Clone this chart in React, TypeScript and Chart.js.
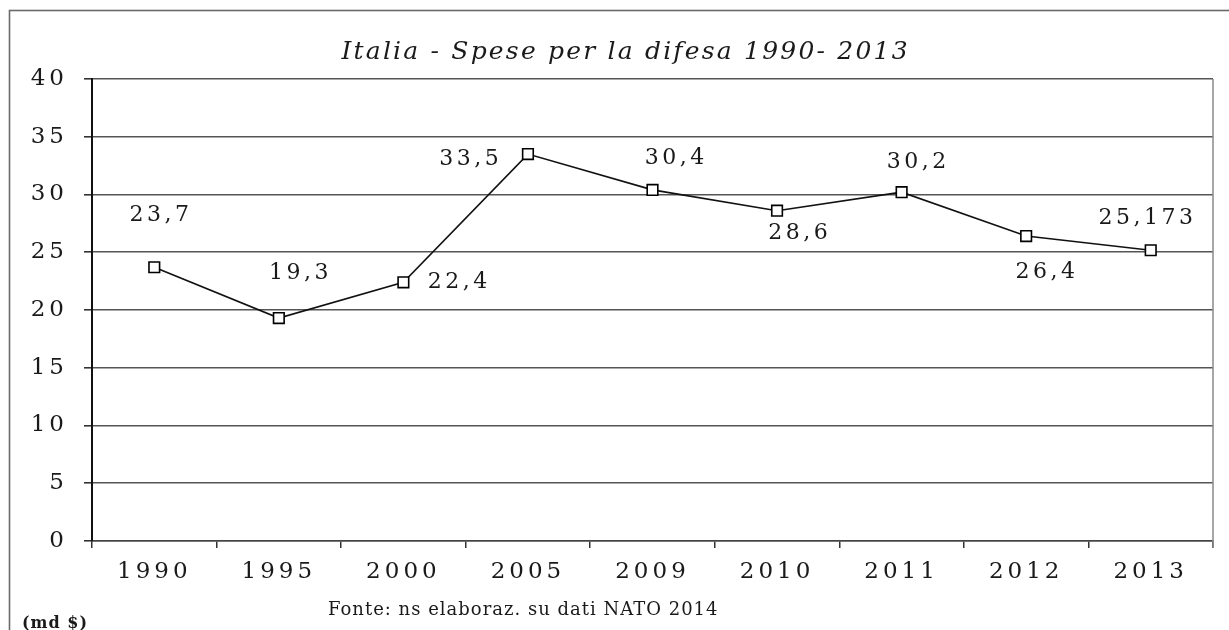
import { useEffect, useRef } from "react";
import { Chart, registerables } from "chart.js";

Chart.register(...registerables);

// ---- data ----
const categories = ["1990", "1995", "2000", "2005", "2009", "2010", "2011", "2012", "2013"];
const spending = [23.7, 19.3, 22.4, 33.5, 30.4, 28.6, 30.2, 26.4, 25.173];
const valueLabels = ["23,7", "19,3", "22,4", "33,5", "30,4", "28,6", "30,2", "26,4", "25,173"];
const yMin = 0;
const yMax = 40;
const yStep = 5;
const titleText = "Italia - Spese per la difesa 1990- 2013";
const sourceText = "Fonte: ns elaboraz. su dati NATO 2014";
const unitText = "(md $)";

// ---- label placement (pixel offsets from each point) ----
const labelOffsets: [number, number][] = [
  [5, -52], [20, -45], [54, 0], [-59, 5], [22, -32], [21, 23], [15, -30], [19, 36], [-5, -32],
];

const FONT = "'DejaVu Serif', 'Liberation Serif', serif";

const decorPlugin = {
  id: "decor",
  beforeUpdate(chart: any) {
    chart.ctx.letterSpacing = "4px";
  },
  beforeLayout(chart: any) {
    chart.ctx.letterSpacing = "4px";
  },
  beforeDraw(chart: any) {
    const ctx = chart.ctx;
    ctx.save();
    ctx.fillStyle = "#ffffff";
    ctx.fillRect(0, 0, chart.width, chart.height);
    ctx.strokeStyle = "#6a6a6a";
    ctx.lineWidth = 1.6;
    ctx.strokeRect(9.5, 10.5, chart.width + 100, chart.height + 100);
    ctx.restore();
    ctx.letterSpacing = "4px";
  },
  afterDatasetsDraw(chart: any) {
    const ctx = chart.ctx;
    const meta = chart.getDatasetMeta(0);
    ctx.save();
    ctx.font = `22px ${FONT}`;
    ctx.letterSpacing = "3.5px";
    ctx.fillStyle = "#1a1a1a";
    ctx.textAlign = "center";
    ctx.textBaseline = "middle";
    meta.data.forEach((pt: any, i: number) => {
      const off = labelOffsets[i];
      ctx.fillText(valueLabels[i], pt.x + off[0] + 1.75, pt.y + off[1]);
    });
    ctx.restore();
  },
  afterDraw(chart: any) {
    const ctx = chart.ctx;
    const a = chart.chartArea;
    ctx.save();
    // right border of plot area
    ctx.strokeStyle = "#8a8a8a";
    ctx.lineWidth = 1.5;
    ctx.beginPath();
    ctx.moveTo(a.right, a.top);
    ctx.lineTo(a.right, a.bottom + 7);
    ctx.stroke();
    // title
    ctx.fillStyle = "#1a1a1a";
    ctx.font = `italic 25px ${FONT}`;
    ctx.letterSpacing = "2.2px";
    ctx.textAlign = "center";
    ctx.textBaseline = "middle";
    ctx.fillText(titleText, 625.6, 52);
    // source
    ctx.font = `18px ${FONT}`;
    ctx.letterSpacing = "1px";
    ctx.textAlign = "left";
    ctx.fillText(sourceText, 328, 610);
    // unit
    ctx.font = `bold 16px ${FONT}`;
    ctx.letterSpacing = "1px";
    ctx.fillText(unitText, 22, 624);
    ctx.restore();
  },
};

export default function App() {
  const canvasRef = useRef<HTMLCanvasElement | null>(null);

  useEffect(() => {
    if (!canvasRef.current) return;
    const chart = new Chart(canvasRef.current, {
      type: "line",
      data: {
        labels: categories,
        datasets: [
          {
            data: spending,
            borderColor: "#111111",
            borderWidth: 1.6,
            pointStyle: "rect",
            pointRadius: 7.5,
            pointBackgroundColor: "#ffffff",
            pointBorderColor: "#000000",
            pointBorderWidth: 1.6,
            tension: 0,
          },
        ],
      },
      options: {
        animation: false,
        responsive: false,
        maintainAspectRatio: false,
        layout: { padding: { left: 0, right: 16, top: 79, bottom: 0 } },
        plugins: {
          legend: { display: false },
          tooltip: { enabled: false },
          title: { display: false },
        },
        scales: {
          x: {
            offset: true,
            grid: {
              offset: true,
              drawOnChartArea: false,
              tickLength: 7,
              color: "#333333",
              lineWidth: 1.5,
            },
            border: { color: "#444444", width: 1.5 },
            ticks: {
              color: "#1a1a1a",
              font: { family: FONT, size: 23 },
              padding: 10,
              maxRotation: 0,
              autoSkip: false,
            },
            afterFit(scale: any) {
              scale.height = 89;
            },
          },
          y: {
            min: yMin,
            max: yMax,
            grid: {
              color: "#555555",
              lineWidth: 1.6,
              tickLength: 8,
              tickColor: "#333333",
            },
            border: { color: "#111111", width: 2 },
            ticks: {
              stepSize: yStep,
              color: "#1a1a1a",
              font: { family: FONT, size: 23 },
              padding: 16,
            },
            afterFit(scale: any) {
              scale.width = 92;
            },
          },
        },
      },
      plugins: [decorPlugin],
    });
    return () => chart.destroy();
  }, []);

  return (
    <div
      style={{
        position: "fixed",
        left: 0,
        top: 0,
        width: 1229,
        height: 630,
        background: "#ffffff",
        overflow: "hidden",
      }}
    >
      <canvas ref={canvasRef} width={1229} height={630} style={{ display: "block" }} />
    </div>
  );
}
